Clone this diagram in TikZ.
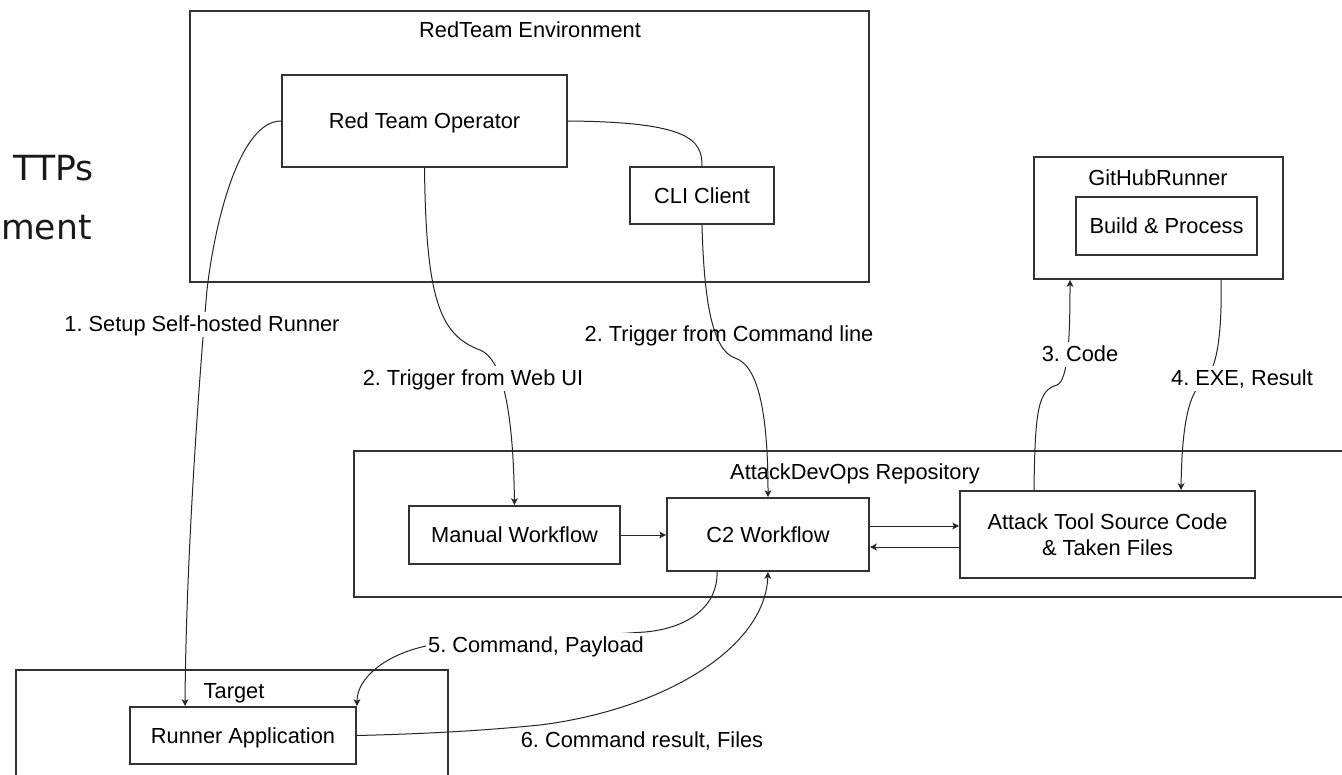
\documentclass[tikz,border=0pt]{standalone}
\usepackage{fontspec}
\setmainfont{Liberation Sans}
\newfontfamily\dejavu{DejaVu Sans}
\usetikzlibrary{arrows.meta,calc}

\newcommand\lbl{\fontsize{10.9}{12.5}\selectfont}
\frenchspacing

\begin{document}
\begin{tikzpicture}[x=0.5pt,y=-0.5pt,
  frame/.style={draw=black!80, line width=1pt, inner sep=0pt},
  box/.style={frame, font=\lbl, text height=7.8pt, text depth=0pt},
  ttl/.style={font=\lbl, inner sep=0pt, anchor=base},
  lab/.style={font=\lbl, anchor=base, fill=white, inner xsep=1pt, inner ysep=1.5pt,
              text height=7.8pt, text depth=1.5pt},
  edge/.style={draw=black!85, line width=0.5pt},
  arr/.style={-{Stealth[length=3.4pt,width=3.4pt,inset=0.9pt]}}]

\fill[white] (0,0) rectangle (1342,775);
\clip (0,0) rectangle (1342,775);

% heading text running in from the left
\node[anchor=base east, inner sep=0pt, font=\dejavu\fontsize{17.3}{20}\selectfont, text=black!90] (h1) at (94,181) {TTPs};
\node[anchor=base east, inner sep=0pt, font=\dejavu\fontsize{17.3}{20}\selectfont, text=black!90] (h2) at (92,240) {ment};

% containers
\node[frame, minimum width=339.5pt, minimum height=135.5pt] (env) at (529.5,146.5) {};
\node[ttl] (envt) at (530,38) {RedTeam Environment};
\node[frame, minimum width=124.5pt, minimum height=61pt] (gh) at (1158.5,218) {};
\node[ttl] (ght) at (1158,185) {GitHubRunner};
\node[frame, minimum width=504pt, minimum height=73pt] (repo) at (858,524) {};
\node[ttl] (repot) at (855,479) {AttackDevOps Repository};
\node[frame, minimum width=216pt, minimum height=60pt] (tgt) at (232,730) {};
\node[ttl] (tgtt) at (234,698) {Target};

% components
\node[box, minimum width=142.5pt, minimum height=46pt] (op) at (424.5,121) {Red Team Operator};
\node[box, minimum width=72pt, minimum height=28.5pt] (cli) at (702,195.5) {CLI Client};
\node[box, minimum width=90.5pt, minimum height=29pt] (bp) at (1166.5,226) {Build \& Process};
\node[box, minimum width=105.5pt, minimum height=29pt] (mw) at (514.5,535) {Manual Workflow};
\node[box, minimum width=101pt, minimum height=36.5pt] (c2) at (768,534.5) {C2 Workflow};
\node[frame, font=\lbl, align=center, minimum width=147.5pt, minimum height=43.5pt] (at) at (1107.5,534.5)
  {Attack Tool Source Code\\[0.3pt]\& Taken Files};
\node[box, minimum width=113pt, minimum height=28.5pt] (ra) at (243,735.5) {Runner Application};

% connectors
\draw[edge,arr] (op.west) .. controls (240,121) and (215,220) .. (207,290)
  .. controls (199,380) and (186,560) .. ($(ra.north west)+(56,0)$);
\draw[edge,arr] (op.south) .. controls (426,300) and (440,335) .. (480,350)
  .. controls (500,358) and (513,400) .. (mw.north);
\draw[edge] (op.east) .. controls (690,122) and (702,140) .. (cli.north);
\draw[edge,arr] (cli.south) .. controls (704,300) and (712,350) .. (735,358)
  .. controls (760,366) and (768,420) .. (c2.north);
\draw[edge,arr] ($(at.north west)+(75,0)$) .. controls (1035,410) and (1038,390) .. (1057,385)
  .. controls (1068,380) and (1070,340) .. ($(gh.south west)+(37,0)$);
\draw[edge,arr] ($(gh.south west)+(188,0)$) .. controls (1222,330) and (1218,370) .. (1203,382)
  .. controls (1190,392) and (1182,420) .. ($(at.north west)+(222,0)$);
\draw[edge,arr] (mw.east) -- (mw.east -| c2.west);
\draw[edge,arr] ($(c2.east)+(0,-8.5)$) -- ($(at.west)+(0,-8.5)$);
\draw[edge,arr] ($(at.west)+(0,12.5)$) -- ($(c2.east)+(0,12.5)$);
\draw[edge,arr] ($(c2.south west)+(51,0)$) .. controls (718,605) and (690,628) .. (645,632)
  -- (426,646) .. controls (385,655) and (357,678) .. (ra.north east);
\draw[edge,arr] (ra.east) .. controls (420,734) and (480,731) .. (540,725)
  .. controls (660,710) and (765,650) .. (c2.south);

% connector labels
\node[lab] (l1) at (202,331) {1. Setup Self-hosted Runner};
\node[lab] (l2a) at (473,385) {2. Trigger from Web UI};
\node[font=\lbl, anchor=base, inner sep=1pt] (l2b) at (729,341) {2. Trigger from Command line};
\node[lab] (l3) at (1080,361) {3. Code};
\node[lab] (l4) at (1242,385) {4. EXE, Result};
\node[lab] (l5) at (536,652) {5. Command, Payload};
\node[lab] (l6) at (642,747) {6. Command result, Files};
\end{tikzpicture}
\end{document}
